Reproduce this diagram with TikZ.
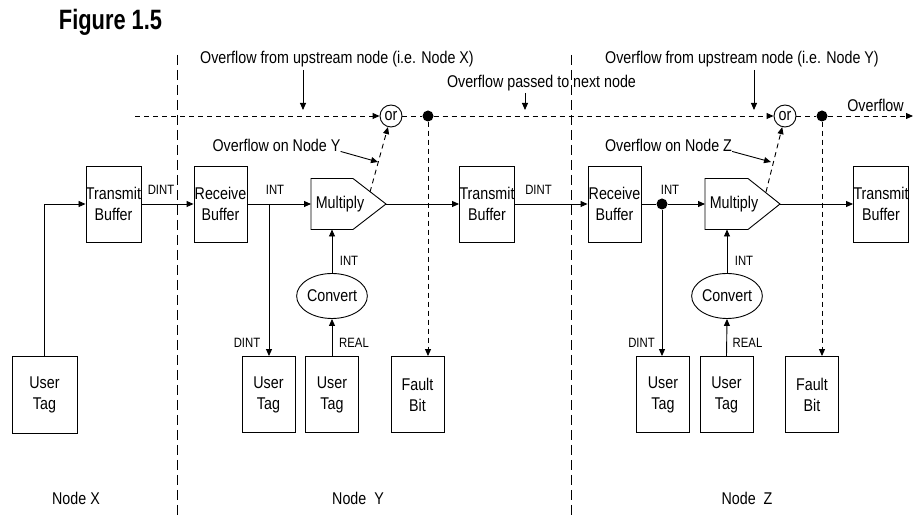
\documentclass[tikz,border=0pt]{standalone}
\usepackage{fontspec}
\setmainfont{Liberation Sans}
\newfontfamily\labfont[FakeStretch=0.84]{Liberation Sans}
\newfontfamily\figfont[FakeStretch=0.78]{Liberation Sans}
\usetikzlibrary{arrows.meta,shapes.geometric,calc}
\begin{document}
\begin{tikzpicture}[x=1pt,y=-1pt,
  every node/.style={font=\labfont\fontsize{17}{21}\selectfont, inner sep=0pt},
  box/.style={draw, line width=0.9pt, minimum width=53pt, minimum height=76pt, align=center},
  lbl/.style={font=\labfont\fontsize{13.5}{15}\selectfont},
  plain/.style={line width=0.9pt},
  conn/.style={line width=0.9pt, -{Triangle[length=7pt,width=6pt]}},
  ovf/.style={dash pattern=on 5pt off 4pt},
  divider/.style={line width=0.9pt, dash pattern=on 10pt off 5pt},
  dot/.style={circle, fill=black, minimum size=11pt},
  orgate/.style={circle, draw, line width=0.9pt, minimum size=22pt},
  conv/.style={ellipse, draw, line width=0.9pt, minimum width=64pt, minimum height=45pt},
  mult/.style={line width=0.9pt},
]
\useasboundingbox (0,0) rectangle (914,518);

% title
\node[font=\figfont\bfseries\fontsize{28}{30}\selectfont] (fig) at (110.5,22) {Figure 1.5};

% dividers
\coordinate (d1a) at (177,55); \coordinate (d1b) at (177,518);
\coordinate (d2a) at (571,55); \coordinate (d2b) at (571,518);
\draw[divider] (d1a) -- (d1b);
\draw[divider] (d2a) -- (d2b);

% ---------- Node X ----------
\node[box, minimum width=65pt, minimum height=77pt] (ut0) at (44.5,394.5) {User\\Tag};
\node[box] (tb1) at (113.5,204) {Transmit\\Buffer};
\node (nx) at (76,498) {Node X};
\draw[conn] (ut0.north) |- (tb1.west);

% ---------- Node Y ----------
\node[box] (rb1) at (220.5,204) {Receive\\Buffer};
\node[lbl] (dint1) at (161,190) {DINT};
\draw[conn] (tb1.east) -- (rb1.west);

\draw[mult] (311,178.5) -- (353,178.5) -- (386,204) -- (353,229.5) -- (311,229.5) -- cycle;
\coordinate (m1w) at (311,204); \coordinate (m1e) at (386,204);
\coordinate (m1s) at (332,229.5); \coordinate (m1t) at (370,192);
\node (m1) at (340,204) {Multiply};

\coordinate (j1) at (269,204);
\node[lbl] (int1) at (275,190) {INT};
\draw[plain] (rb1.east) -- (j1);
\draw[conn] (j1) -- (m1w);

\node[box] (ut1) at (268.5,394.5) {User\\Tag};
\node[box] (ut2) at (332,394.5) {User\\Tag};
\node[box] (fb1) at (417.5,394.5) {Fault\\Bit};
\node[conv] (c1) at (332,296) {Convert};
\node[lbl] (dint2) at (247,343) {DINT};
\node[lbl] (real1) at (354,343) {REAL};
\node[lbl] (int2) at (349,261) {INT};
\draw[conn] (j1) -- (j1 |- ut1.north);
\draw[conn] (ut2.north) -- (c1.south);
\draw[conn] (c1.north) -- (m1s);

\node[orgate] (or1) at (391,116) {or};
\node[dot] (dot1) at (428,116) {};
\coordinate (ovs) at (135,116);
\draw[conn, ovf] (ovs) -- (or1.west);
\draw[plain, ovf] (or1.east) -- (dot1);
\draw[conn, ovf] (dot1) -- (dot1 |- fb1.north);
\draw[conn, ovf] (m1t) -- (or1);

\node (up1) at (337,59) {Overflow from upstream node (i.e. Node X)};
\coordinate (ua1) at (303,70); \coordinate (ub1) at (303,110);
\draw[conn] (ua1) -- (ub1);

\node (ony) at (276.5,145) {Overflow on Node Y};
\coordinate (onyt) at (378,162);
\draw[conn] (ony.south east) -- (onyt);

\node (pass) at (541.5,83) {Overflow passed to next node};
\coordinate (pa) at (525,93); \coordinate (pb) at (525,110);
\draw[conn] (pa) -- (pb);

\node[box] (tb2) at (487,204) {Transmit\\Buffer};
\draw[conn] (m1e) -- (tb2.west);
\node (ny) at (358,498) {Node\ \ Y};

% ---------- Node Z ----------
\node[lbl] (dint3) at (538.5,190) {DINT};
\node[box] (rb2) at (614.5,204) {Receive\\Buffer};
\draw[conn] (tb2.east) -- (rb2.west);

\draw[mult] (705,178.5) -- (748,178.5) -- (780,204) -- (748,229.5) -- (705,229.5) -- cycle;
\coordinate (m2w) at (705,204); \coordinate (m2e) at (780,204);
\coordinate (m2s) at (727,229.5); \coordinate (m2t) at (766,192);
\node (m2) at (734,204) {Multiply};

\node[dot] (j2) at (662,204) {};
\node[lbl] (int3) at (670,190) {INT};
\draw[plain] (rb2.east) -- (j2);
\draw[conn] (j2) -- (m2w);

\node[box] (ut3) at (663,394.5) {User\\Tag};
\node[box] (ut4) at (726.5,394.5) {User\\Tag};
\node[box] (fb2) at (812,394.5) {Fault\\Bit};
\node[conv] (c2) at (727,296) {Convert};
\node[lbl] (dint4) at (641.5,343) {DINT};
\node[lbl] (real2) at (747.5,343) {REAL};
\node[lbl] (int4) at (744,261) {INT};
\draw[conn] (j2) -- (j2 |- ut3.north);
\draw[conn] (ut4.north) -- (c2.south);
\draw[conn] (c2.north) -- (m2s);

\node[orgate] (or2) at (785,116) {or};
\node[dot] (dot2) at (822,116) {};
\coordinate (ove) at (913,116);
\draw[conn, ovf] (dot1) -- (or2.west);
\draw[plain, ovf] (or2.east) -- (dot2);
\draw[conn, ovf] (dot2) -- (ove);
\draw[conn, ovf] (dot2) -- (dot2 |- fb2.north);
\draw[conn, ovf] (m2t) -- (or2);
\node (ovl) at (875.5,105) {Overflow};

\node (up2) at (742,59) {Overflow from upstream node (i.e. Node Y)};
\coordinate (ua2) at (754,70); \coordinate (ub2) at (754,110);
\draw[conn] (ua2) -- (ub2);

\node (onz) at (668.5,145) {Overflow on Node Z};
\coordinate (onzt) at (771,162);
\draw[conn] (onz.south east) -- (onzt);

\node[box] (tb3) at (881,204) {Transmit\\Buffer};
\draw[conn] (m2e) -- (tb3.west);
\node (nz) at (747,498) {Node\ \ Z};
\end{tikzpicture}
\end{document}
